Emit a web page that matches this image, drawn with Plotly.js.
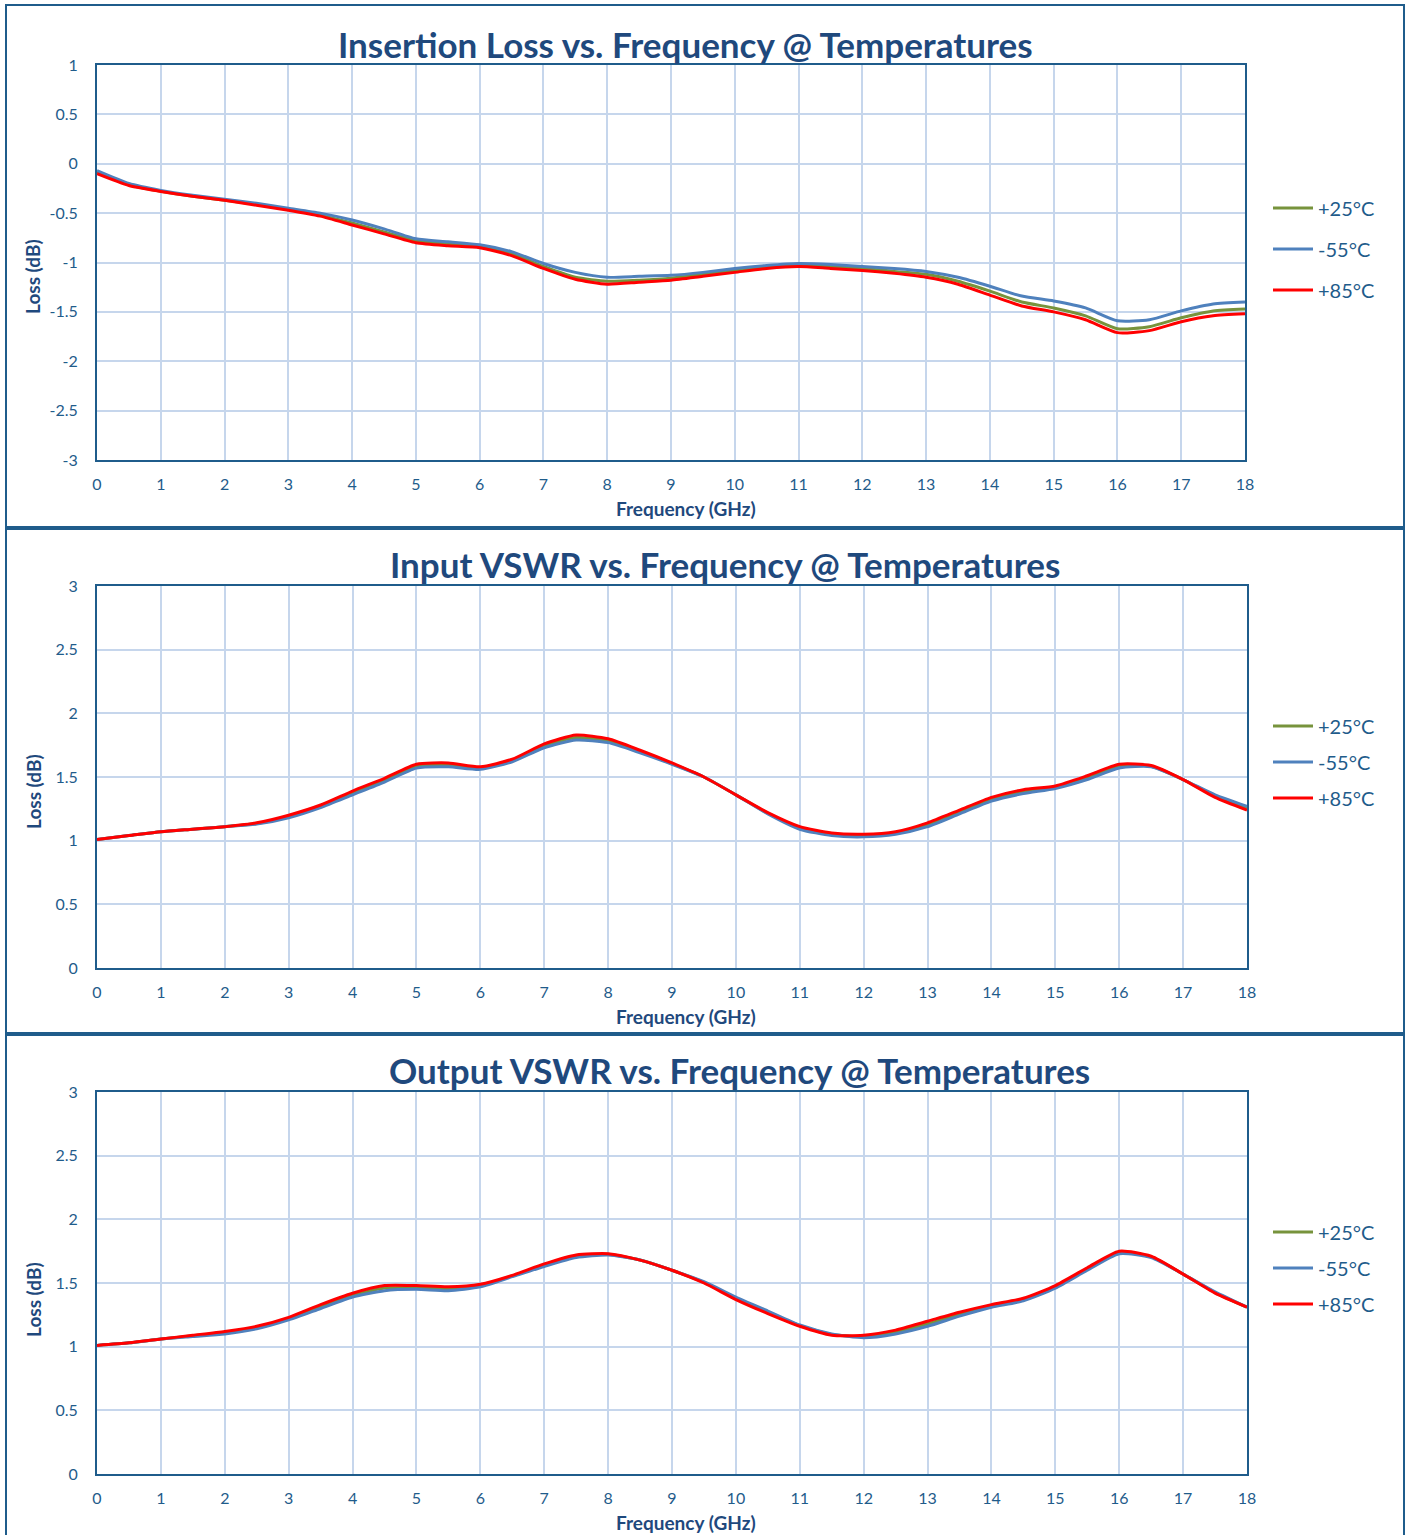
<!DOCTYPE html>
<html>
<head>
<meta charset="utf-8">
<script src="https://cdn.plot.ly/plotly-3.0.1.min.js"></script>
<style>html,body{margin:0;padding:0;background:#fff;}#chart{width:1406px;height:1535px;}</style>
</head>
<body>
<div id="chart"></div>
<script>
// ---------- DATA ----------
const freq = [0,0.5,1,1.5,2,2.5,3,3.5,4,4.5,5,5.5,6,6.5,7,7.5,8,8.5,9,9.5,10,10.5,11,11.5,12,12.5,13,13.5,14,14.5,15,15.5,16,16.5,17,17.5,18];
const seriesNames = ['+25°C','-55°C','+85°C'];

// Insertion loss (dB)
const il_p25 = [-0.08,-0.21,-0.28,-0.33,-0.37,-0.41,-0.46,-0.52,-0.60,-0.69,-0.78,-0.81,-0.84,-0.91,-1.04,-1.15,-1.19,-1.18,-1.16,-1.12,-1.08,-1.05,-1.03,-1.04,-1.06,-1.09,-1.12,-1.19,-1.29,-1.40,-1.46,-1.54,-1.67,-1.65,-1.56,-1.49,-1.47];
const il_m55 = [-0.07,-0.20,-0.27,-0.32,-0.36,-0.40,-0.45,-0.50,-0.57,-0.66,-0.76,-0.79,-0.82,-0.89,-1.01,-1.10,-1.15,-1.14,-1.13,-1.10,-1.06,-1.03,-1.01,-1.02,-1.04,-1.06,-1.09,-1.15,-1.24,-1.34,-1.39,-1.46,-1.59,-1.58,-1.49,-1.42,-1.40];
const il_p85 = [-0.10,-0.22,-0.28,-0.33,-0.37,-0.42,-0.47,-0.53,-0.62,-0.71,-0.80,-0.83,-0.85,-0.93,-1.06,-1.17,-1.22,-1.20,-1.18,-1.14,-1.10,-1.06,-1.04,-1.06,-1.08,-1.11,-1.15,-1.22,-1.33,-1.44,-1.50,-1.58,-1.71,-1.69,-1.60,-1.54,-1.52];

// Input VSWR
const in_p25 = [1.01,1.04,1.07,1.09,1.11,1.135,1.19,1.27,1.375,1.475,1.585,1.595,1.57,1.63,1.745,1.81,1.785,1.70,1.605,1.50,1.36,1.215,1.10,1.05,1.04,1.06,1.125,1.225,1.325,1.385,1.42,1.495,1.585,1.585,1.48,1.35,1.255];
const in_m55 = [1.01,1.04,1.07,1.09,1.11,1.13,1.18,1.26,1.36,1.46,1.57,1.58,1.56,1.62,1.73,1.79,1.77,1.69,1.60,1.50,1.36,1.21,1.09,1.04,1.03,1.05,1.11,1.21,1.31,1.37,1.41,1.48,1.57,1.58,1.48,1.36,1.27];
const in_p85 = [1.01,1.04,1.07,1.09,1.11,1.14,1.20,1.28,1.39,1.49,1.60,1.61,1.58,1.64,1.76,1.83,1.80,1.71,1.61,1.50,1.36,1.22,1.11,1.06,1.05,1.07,1.14,1.24,1.34,1.40,1.43,1.51,1.60,1.59,1.48,1.34,1.24];

// Output VSWR
const out_p25 = [1.01,1.03,1.06,1.085,1.11,1.15,1.22,1.315,1.405,1.46,1.465,1.455,1.48,1.555,1.64,1.71,1.725,1.68,1.60,1.505,1.38,1.27,1.165,1.095,1.08,1.115,1.18,1.255,1.32,1.37,1.47,1.61,1.74,1.705,1.57,1.425,1.31];
const out_m55 = [1.01,1.03,1.06,1.08,1.10,1.14,1.21,1.30,1.39,1.44,1.45,1.44,1.47,1.55,1.63,1.70,1.72,1.68,1.60,1.51,1.39,1.28,1.17,1.10,1.07,1.10,1.16,1.24,1.31,1.36,1.46,1.60,1.73,1.70,1.57,1.43,1.31];
const out_p85 = [1.01,1.03,1.06,1.09,1.12,1.16,1.23,1.33,1.42,1.48,1.48,1.47,1.49,1.56,1.65,1.72,1.73,1.68,1.60,1.50,1.37,1.26,1.16,1.09,1.09,1.13,1.20,1.27,1.33,1.38,1.48,1.62,1.75,1.71,1.57,1.42,1.31];

const xTicks = [0,1,2,3,4,5,6,7,8,9,10,11,12,13,14,15,16,17,18];
const ilTickVals = [1,0.5,0,-0.5,-1,-1.5,-2,-2.5,-3];
const ilTickText = ['1','0.5','0','-0.5','-1','-1.5','-2','-2.5','-3'];
const vswrTickVals = [0,0.5,1,1.5,2,2.5,3];
const vswrTickText = ['0','0.5','1','1.5','2','2.5','3'];

const titles = ['Insertion Loss vs. Frequency @ Temperatures','Input VSWR vs. Frequency @ Temperatures','Output VSWR vs. Frequency @ Temperatures'];
const xTitle = 'Frequency (GHz)';
const yTitle = 'Loss (dB)';

// ---------- STYLE ----------
const W = 1406, H = 1535;
const px = x => x / W;
const py = y => 1 - y / H;
const colors = ['#77933C', '#4F81BD', '#FF0000'];
const axisColor = '#1F5C8B';
const textColor = '#1F5C8B';
const titleColor = '#1F497D';
const gridColor = '#C6D6EC';
const FONT = 'Lato, "Open Sans", sans-serif';

const panels = [
  {ys: [il_p25, il_m55, il_p85], xa: 'x', ya: 'y', legend: 'legend'},
  {ys: [in_p25, in_m55, in_p85], xa: 'x2', ya: 'y2', legend: 'legend2'},
  {ys: [out_p25, out_m55, out_p85], xa: 'x3', ya: 'y3', legend: 'legend3'}
];

const traces = [];
panels.forEach(p => {
  p.ys.forEach((ys, i) => {
    traces.push({
      x: freq, y: ys, type: 'scatter', mode: 'lines',
      name: seriesNames[i], xaxis: p.xa, yaxis: p.ya, legend: p.legend,
      legendgroup: p.legend + i,
      line: {color: colors[i], width: 3, shape: 'spline', smoothing: 0.6},
      hoverinfo: 'skip'
    });
  });
});

function xAxis(domainRight, anchor) {
  return {
    domain: [px(97), px(domainRight)], anchor: anchor, range: [0, 18],
    tickvals: xTicks, showgrid: true, gridcolor: gridColor, gridwidth: 2,
    showline: true, mirror: true, linecolor: axisColor, linewidth: 2,
    zeroline: false, ticks: '', ticklabelstandoff: 9,
    tickfont: {family: FONT, size: 16, color: textColor}, fixedrange: true
  };
}
function yAxis(top, bottom, anchor, range, vals, text) {
  return {
    domain: [py(bottom), py(top)], anchor: anchor, range: range,
    tickvals: vals, ticktext: text, showgrid: true, gridcolor: gridColor, gridwidth: 2,
    showline: true, mirror: true, linecolor: axisColor, linewidth: 2,
    zeroline: false, ticks: '', ticklabelstandoff: 14,
    tickfont: {family: FONT, size: 16, color: textColor}, fixedrange: true
  };
}

function legendCfg(yc, gap) {
  return {
    x: px(1268), y: py(yc), xanchor: 'left', yanchor: 'middle',
    font: {family: FONT, size: 20, color: textColor},
    bgcolor: 'rgba(0,0,0,0)', borderwidth: 0, traceorder: 'grouped',
    tracegroupgap: gap, itemwidth: 40
  };
}

const annotations = [];
const titleCenters = [[685, 44], [725, 564], [739, 1070]];
titles.forEach((t, i) => {
  annotations.push({
    text: '<b>' + t + '</b>', xref: 'paper', yref: 'paper',
    x: px(titleCenters[i][0]), y: py(titleCenters[i][1]), xanchor: 'center', yanchor: 'middle',
    showarrow: false, font: {family: FONT, size: 35, color: titleColor}
  });
});
const xTitleY = [508, 1016, 1522];
const yTitleY = [277, 792, 1300];
for (let i = 0; i < 3; i++) {
  annotations.push({
    text: '<b>' + xTitle + '</b>', xref: 'paper', yref: 'paper',
    x: px(686), y: py(xTitleY[i]), xanchor: 'center', yanchor: 'middle',
    showarrow: false, font: {family: FONT, size: 19, color: titleColor}
  });
  annotations.push({
    text: '<b>' + yTitle + '</b>', xref: 'paper', yref: 'paper',
    x: px(33), y: py(yTitleY[i]), xanchor: 'center', yanchor: 'middle', textangle: -90,
    showarrow: false, font: {family: FONT, size: 19, color: titleColor}
  });
}

const boxes = [[6, 5, 1404, 527], [6, 529, 1404, 1033], [6, 1035, 1404, 1545]];
const shapes = boxes.map(b => ({
  type: 'rect', xref: 'paper', yref: 'paper',
  x0: px(b[0]), x1: px(b[2]), y0: py(b[3]), y1: py(b[1]),
  line: {color: axisColor, width: 2}, fillcolor: 'rgba(0,0,0,0)', layer: 'below'
}));

const layout = {
  width: W, height: H, margin: {l: 0, r: 0, t: 0, b: 0},
  paper_bgcolor: '#ffffff', plot_bgcolor: '#ffffff',
  font: {family: FONT, color: textColor},
  showlegend: true,
  xaxis: xAxis(1245, 'y'),
  yaxis: yAxis(65, 460, 'x', [-3, 1], ilTickVals, ilTickText),
  xaxis2: xAxis(1247, 'y2'),
  yaxis2: yAxis(586, 968, 'x2', [0, 3], vswrTickVals, vswrTickText),
  xaxis3: xAxis(1247, 'y3'),
  yaxis3: yAxis(1092, 1474, 'x3', [0, 3], vswrTickVals, vswrTickText),
  legend: legendCfg(249, 12),
  legend2: legendCfg(762, 7),
  legend3: legendCfg(1268, 7),
  annotations: annotations,
  shapes: shapes
};

Plotly.newPlot('chart', traces, layout, {staticPlot: true, displayModeBar: false});
</script>
</body>
</html>
